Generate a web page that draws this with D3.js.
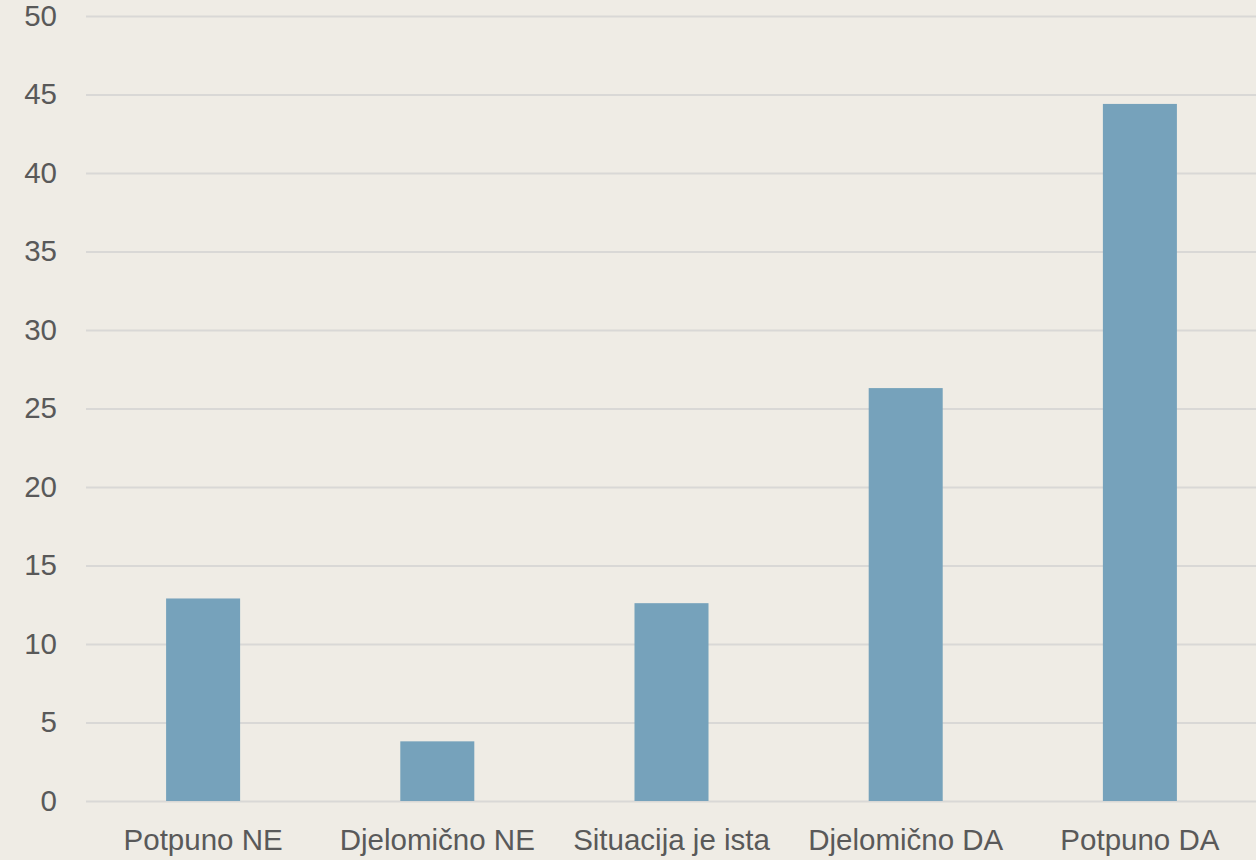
<!DOCTYPE html>
<html>
<head>
<meta charset="utf-8">
<script src="https://cdn.jsdelivr.net/npm/d3@7"></script>
<style>
    html, body { margin: 0; padding: 0; background: #EFECE5; }
    svg { display: block; }
    text { font-family: "Liberation Sans", Arial, sans-serif; fill: #595959; }
</style>
</head>
<body>
<div id="chartdiv"></div>
<script>
    // chart data
    var categories = ["Potpuno NE", "Djelomično NE", "Situacija je ista",
                      "Djelomično DA", "Potpuno DA"];
    var values = [12.9, 3.8, 12.6, 26.3, 44.4];
    var yTicks = [0, 5, 10, 15, 20, 25, 30, 35, 40, 45, 50];

    (function () {
        "use strict";

        var W = 1256, H = 860,
            plot = {left: 86, right: 1257, top: 16, bottom: 801},
            barPad = 0.684,
            fontSize = 29.5;

        var svg = d3.select("#chartdiv").append("svg")
            .attr("width", W).attr("height", H);

        svg.append("rect")
            .attr("width", W).attr("height", H)
            .attr("fill", "#EFECE5");

        var x = d3.scaleBand()
            .domain(categories)
            .range([plot.left, plot.right])
            .paddingInner(barPad)
            .paddingOuter(barPad / 2);

        var y = d3.scaleLinear()
            .domain([0, 50])
            .range([plot.bottom, plot.top]);

        // gridlines + y labels
        var yAxis = d3.axisLeft(y)
            .tickValues(yTicks)
            .tickSize(-(W - plot.left))
            .tickPadding(29)
            .tickFormat(d3.format("d"));

        var gy = svg.append("g")
            .attr("transform", "translate(" + plot.left + ",0)")
            .call(yAxis);
        gy.select(".domain").remove();
        gy.selectAll(".tick line")
            .attr("stroke", "#D9D8D6")
            .attr("stroke-width", 2);
        gy.selectAll(".tick text")
            .attr("font-size", fontSize)
            .attr("fill", "#595959");

        // bars
        svg.append("g").selectAll("rect")
            .data(values)
            .join("rect")
            .attr("x", function (d, i) { return x(categories[i]); })
            .attr("width", x.bandwidth())
            .attr("y", function (d) { return y(d); })
            .attr("height", function (d) { return y(0) - y(d); })
            .attr("fill", "#76A2BB");

        // x labels
        var xAxis = d3.axisBottom(x).tickSize(0).tickPadding(28);
        var gx = svg.append("g")
            .attr("transform", "translate(0," + plot.bottom + ")")
            .call(xAxis);
        gx.select(".domain").remove();
        gx.selectAll(".tick text")
            .attr("font-size", fontSize)
            .attr("fill", "#595959");
    }());
</script>
</body>
</html>
